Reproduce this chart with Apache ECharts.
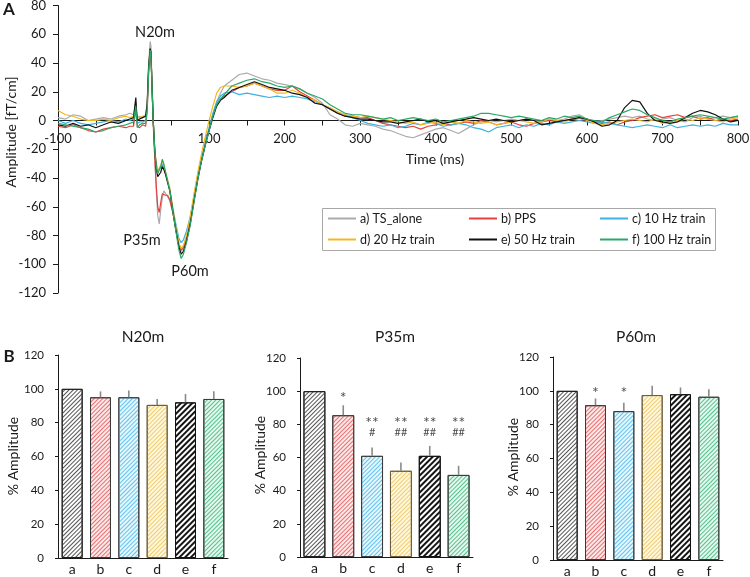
<!DOCTYPE html>
<html>
<head>
<meta charset="utf-8">
<script src="https://cdn.jsdelivr.net/npm/echarts/dist/echarts.min.js"></script>
<style>html,body{margin:0;padding:0;background:#fff}#c{width:750px;height:577px}</style>
</head>
<body>
<div id="c"></div>
<script>
// ---------- DATA ----------
const timeMs = [-100,-90,-80,-70,-60,-50,-40,-30,-20,-10,-5,0,
  2,3,4,5,6,8,10,12,14,16,18,20,22,23,24,26,28,30,32,34,36,38,40,42,45,48,52,56,60,63,66,70,75,80,85,90,95,100,105,110,115,120,
  130,140,150,160,170,180,190,200,210,220,230,240,250,260,270,280,290,300,
  310,320,330,340,350,360,370,380,390,400,410,420,430,440,450,460,470,480,490,500,
  510,520,530,540,550,560,570,580,590,600,610,620,630,640,650,660,670,680,690,700,
  710,720,730,740,750,760,770,780,790,800];

const tsAlone = [2,1,4,3,0,1,2,1,3,4,5,4,
  5,13,7,2,2,3,3,2,3,4,12,40,55,52,35,2,-24,-48,-66,-72,-62,-54,-49,-50,-53,-56,-64,-76,-86,-91,-89,-83,-70,-55,-40,-27,-16,-6,4,13,19,24,
  28,32,33,31,29,28,26,25,24,22,19,16,12,4,1,-3,-4,-2,
  -3,-4,-6,-7,-9,-11,-12,-10,-8,-6,-5,-7,-9,-6,-3,-1,0,-1,0,1,
  0,1,0,-1,1,0,1,3,4,1,-1,0,1,2,3,2,3,1,0,1,
  2,0,-1,2,3,1,2,3,2,3];

const pps = [-4,-5,-3,-5,-7,-8,-6,-5,-4,-5,-4,-4,
  -4,8,1,-4,-4,-5,-4,-3,-4,-4,6,34,50,48,31,-2,-25,-45,-60,-64,-57,-51,-50,-52,-52,-55,-64,-76,-86,-90,-88,-82,-70,-55,-40,-27,-16,-6,3,11,15,17,
  20,23,24,26,24,22,21,21,24,20,17,14,11,8,5,3,3,2,
  2,0,-2,-3,-4,-5,-4,-6,-4,-3,-2,-3,-2,-1,-2,0,-1,-3,-2,-1,
  -3,-4,-2,-1,0,-1,0,1,0,1,-1,-2,-1,-3,-1,0,2,3,4,2,
  3,4,2,3,1,2,0,1,0,1];

const train10 = [0,-2,0,-2,-3,-2,-1,0,-1,1,0,1,
  0,11,4,-2,-2,-1,0,-1,-1,0,9,36,49,46,30,0,-20,-30,-35,-36,-33,-30,-32,-36,-42,-48,-61,-72,-82,-85,-83,-77,-67,-53,-39,-26,-15,-5,5,13,17,19,
  20,18,19,18,17,16,17,16,17,16,15,13,11,8,6,4,2,0,
  -2,-3,-4,-3,-5,-4,-2,-3,-1,-2,-4,-3,-2,-3,-5,-6,-8,-5,-4,-3,
  -5,-3,-4,-2,-3,-1,-2,-1,0,-1,-2,-1,-2,-3,-4,-5,-4,-3,-4,-5,
  -3,-5,-4,-3,-4,-3,-4,-2,-3,-3];

const train20 = [7,4,3,1,0,0,1,0,2,3,2,3,
  3,12,5,2,2,2,3,3,2,3,10,36,49,46,31,1,-19,-30,-35,-35,-31,-28,-31,-35,-41,-47,-61,-74,-85,-89,-87,-80,-67,-51,-36,-23,-11,0,10,19,23,24,
  24,23,24,26,24,22,19,19,21,19,16,14,11,9,6,4,3,2,
  3,2,1,0,-1,-2,-1,-3,-2,-1,-3,-1,-2,0,-1,-2,-1,-3,-2,-1,
  0,-1,-2,-1,1,0,-1,1,2,0,-2,-3,-2,-1,0,1,0,-1,1,-2,
  -1,0,1,0,2,1,0,-1,1,2];

const train50 = [-3,-4,-2,-4,-3,-5,-3,-1,-2,0,1,2,
  2,16,6,0,0,1,2,2,2,3,11,38,50,47,31,0,-20,-33,-39,-40,-36,-32,-34,-37,-43,-49,-63,-76,-88,-93,-91,-84,-72,-56,-41,-28,-17,-7,2,10,14,16,
  21,23,25,27,25,23,22,21,19,18,16,12,11,8,5,3,2,1,
  1,0,-1,-1,-2,-1,0,1,-1,0,-2,-1,0,1,2,1,0,1,0,-1,
  0,1,0,-3,-2,-1,0,1,2,1,-1,-4,-3,0,9,14,13,5,0,-1,
  -2,-1,2,5,7,6,4,1,-1,0];

const train100 = [-2,-3,-4,-5,-6,-8,-7,-5,-4,-3,-2,-1,
  -1,10,3,-5,-4,-3,-2,-2,-3,-2,8,35,49,46,30,0,-20,-32,-37,-38,-32,-27,-30,-35,-42,-49,-63,-77,-90,-96,-93,-85,-73,-57,-41,-28,-17,-7,3,11,15,18,
  24,26,28,29,27,26,24,23,24,22,19,17,15,11,8,5,4,4,
  3,2,1,2,0,1,2,1,0,1,-1,0,1,2,3,5,5,4,3,2,
  3,2,1,0,2,1,3,2,3,1,0,-1,2,4,6,8,7,4,2,0,
  -1,1,2,3,4,3,2,1,2,3];

const seriesNames = ['a) TS_alone','b) PPS','c) 10 Hz train','d) 20 Hz train','e) 50 Hz train','f) 100 Hz train'];

const barCats = ['a','b','c','d','e','f'];
const n20Mean = [100, 95, 95, 90.5, 92, 94];
const n20Err  = [0, 3.5, 4, 3.5, 5, 4.5];
const p35Mean = [100, 85.5, 61, 52, 61, 49.5];
const p35Err  = [0, 6, 5, 5, 6, 5.5];
const p60Mean = [100, 91.5, 88, 97.5, 98, 96.5];
const p60Err  = [0, 4, 5, 5.5, 4, 4.5];
const p35Stars  = ['', '*', '**', '**', '**', '**'];
const p35Hashes = ['', '', '#', '##', '##', '##'];
const p60Stars  = ['', '*', '*', '', '', ''];

// ---------- STYLE / LAYOUT ----------
const lineColors = ['#ababab','#e8403c','#3cb2e4','#f2b824','#111111','#2aa866'];
const barStyles = [
  {fill:'#ffffff', stripe:'#555555', border:'#1e1e1e', dash:[1, 1.6]},
  {fill:'#fde9e9', stripe:'#e87070', border:'#3a3a3a', dash:[1, 1.6]},
  {fill:'#e8f7fd', stripe:'#62c4ee', border:'#3a3a3a', dash:[1, 1.6]},
  {fill:'#fff7de', stripe:'#eecd72', border:'#6a5c3e', dash:[1, 1.6]},
  {fill:'#ffffff', stripe:'#151515', border:'#111111', dash:[1.4, 1.2]},
  {fill:'#e6f8ee', stripe:'#55c28f', border:'#3a3a3a', dash:[1, 1.6]}
];
const FONT = 'Lato, "Open Sans", sans-serif';
const TXT = '#1a1a1a';

function barItems(vals){
  return vals.map((v,i)=>({
    value: v,
    itemStyle: {
      color: barStyles[i].fill,
      borderColor: barStyles[i].border,
      borderWidth: 1,
      decal: {
        symbol: 'rect', symbolSize: 1, color: barStyles[i].stripe,
        dashArrayX: [1, 0], dashArrayY: barStyles[i].dash,
        rotation: -Math.PI / 4
      }
    }
  }));
}
function errItems(mean, err){ return mean.map((m,i)=>[i, m, err[i]]); }
function errorSeries(idx, mean, err){
  return {
    type: 'custom', xAxisIndex: idx, yAxisIndex: idx, z: 5,
    data: errItems(mean, err),
    renderItem: function(params, api){
      const e = api.value(2);
      if (!e) return null;
      const p0 = api.coord([api.value(0), api.value(1)]);
      const p1 = api.coord([api.value(0), api.value(1) + e]);
      return {type:'line', shape:{x1:p0[0], y1:p0[1], x2:p1[0], y2:p1[1]},
              style:{stroke:'#8a8a8a', lineWidth:1.6}};
    }
  };
}
function markerSeries(idx, texts, levelFn, size){
  const data = [];
  texts.forEach((t,i)=>{ if (t) data.push([i, levelFn(i), t]); });
  return {
    type: 'scatter', xAxisIndex: idx, yAxisIndex: idx, symbolSize: 1, z: 6,
    itemStyle: {color: 'rgba(0,0,0,0)'},
    data: data,
    label: {show: true, position: 'inside', formatter: p => p.value[2],
            fontFamily: FONT, fontSize: size, color: TXT}
  };
}

// grid 0: waveform; grids 1-3: bar panels; grid 4: helper that carries the time axis on the zero line
const grids = [
  {left: 58,  top: 5.5, width: 680, height: 287.5},
  {left: 58,  top: 355, width: 170, height: 203},
  {left: 300, top: 358, width: 173, height: 199},
  {left: 553, top: 357, width: 170, height: 203},
  {left: 58,  top: 119.5, width: 680, height: 1}
].map(g => Object.assign({outerBoundsMode: 'none', containLabel: false}, g));

const xAxes = [{
  type: 'value', gridIndex: 0, min: -100, max: 800, interval: 50, show: false
}];
const yAxes = [{
  type: 'value', gridIndex: 0, min: -120, max: 80, interval: 20,
  axisLine: {show: true, onZero: false, lineStyle: {color: '#1a1a1a', width: 1}},
  axisTick: {show: true, length: 5, lineStyle: {color: '#1a1a1a'}},
  axisLabel: {fontFamily: FONT, fontSize: 13, color: TXT, margin: 12},
  splitLine: {show: false}
}];
for (let k = 1; k <= 3; k++) {
  xAxes.push({
    type: 'category', gridIndex: k, data: barCats,
    axisLine: {lineStyle: {color: '#1a1a1a', width: 1}},
    axisTick: {show: false},
    axisLabel: {fontFamily: FONT, fontSize: 14, color: TXT, margin: 4}
  });
  yAxes.push({
    type: 'value', gridIndex: k, min: 0, max: 120, interval: 20,
    axisLine: {show: true, onZero: false, lineStyle: {color: '#1a1a1a', width: 1}},
    axisTick: {show: true, length: 3, lineStyle: {color: '#1a1a1a'}},
    axisLabel: {fontFamily: FONT, fontSize: 11.5, color: TXT, margin: 14},
    splitLine: {show: false}
  });
}
xAxes.push({
  type: 'value', gridIndex: 4, min: -100, max: 800, interval: 50, position: 'bottom',
  axisLine: {show: true, onZero: false, lineStyle: {color: '#1a1a1a', width: 1}},
  axisTick: {show: true, length: 5, lineStyle: {color: '#1a1a1a'}},
  axisLabel: {fontFamily: FONT, fontSize: 13, color: TXT, margin: 12,
              formatter: v => (v % 100 === 0 ? String(v) : '')},
  splitLine: {show: false}
});
yAxes.push({type: 'value', gridIndex: 4, min: 0, max: 1, show: false});

const curves = [tsAlone, pps, train10, train20, train50, train100];
const lineSeries = curves.map((arr, i) => ({
  name: seriesNames[i], type: 'line', xAxisIndex: 0, yAxisIndex: 0,
  data: timeMs.map((t, j) => [t, arr[j]]),
  showSymbol: false, symbol: 'none',
  lineStyle: {color: lineColors[i], width: 1.2},
  itemStyle: {color: lineColors[i]},
  z: 2 + i
}));

const barSeries = [
  {type: 'bar', xAxisIndex: 1, yAxisIndex: 1, barWidth: '74%', data: barItems(n20Mean)},
  errorSeries(1, n20Mean, n20Err),
  {type: 'bar', xAxisIndex: 2, yAxisIndex: 2, barWidth: '76%', data: barItems(p35Mean)},
  errorSeries(2, p35Mean, p35Err),
  markerSeries(2, p35Stars, i => (i === 1 ? 96 : 81), 16),
  markerSeries(2, p35Hashes, i => 75, 11),
  {type: 'bar', xAxisIndex: 3, yAxisIndex: 3, barWidth: '74%', data: barItems(p60Mean)},
  errorSeries(3, p60Mean, p60Err),
  markerSeries(3, p60Stars, i => 99, 16)
];

const legendPos = [[328, 212], [469, 212], [600, 212], [328, 233], [469, 233], [600, 233]];
const legends = seriesNames.map((n, i) => ({
  data: [n], left: legendPos[i][0], top: legendPos[i][1], padding: 0,
  icon: 'rect', itemWidth: 28, itemHeight: 2, itemGap: 0, selectedMode: false,
  textStyle: {fontFamily: FONT, fontSize: 12.5, color: TXT, padding: [0,0,0,-1]}
}));

function txt(text, x, y, size, opts){
  opts = opts || {};
  return {
    type: 'text', x: x, y: y, rotation: opts.rot || 0, z: 100,
    style: {text: text, font: (opts.bold ? 'bold ' : '') + size + 'px ' + FONT, fill: TXT,
            align: 'center', verticalAlign: 'middle', textAlign: 'center', textVerticalAlign: 'middle'}
  };
}

const graphics = [
  {type: 'rect', shape: {x: 322.5, y: 208.5, width: 393, height: 42}, style: {fill: 'none', stroke: '#a8a8a8', lineWidth: 1}, z: 1},
  txt('A', 9, 10, 17, {bold: true}),
  txt('B', 9, 357, 17, {bold: true}),
  txt('Amplitude [fT/cm]', 11, 132, 14, {rot: Math.PI / 2}),
  txt('Time (ms)', 435, 159, 14),
  txt('N20m', 155, 32, 14.5),
  txt('P35m', 142, 240, 14.5),
  txt('P60m', 190, 271, 14.5),
  txt('N20m', 143, 337, 15.5),
  txt('P35m', 395, 337, 15.5),
  txt('P60m', 636, 337, 15.5),
  txt('% Amplitude', 13, 456, 14, {rot: Math.PI / 2}),
  txt('% Amplitude', 260, 455, 14, {rot: Math.PI / 2}),
  txt('% Amplitude', 513, 457, 14, {rot: Math.PI / 2})
];

const chart = echarts.init(document.getElementById('c'), null, {renderer: 'canvas'});
chart.setOption({
  animation: false,
  backgroundColor: '#ffffff',
  textStyle: {fontFamily: FONT},
  grid: grids,
  xAxis: xAxes,
  yAxis: yAxes,
  legend: legends,
  graphic: graphics,
  series: lineSeries.concat(barSeries)
});
</script>
</body>
</html>
